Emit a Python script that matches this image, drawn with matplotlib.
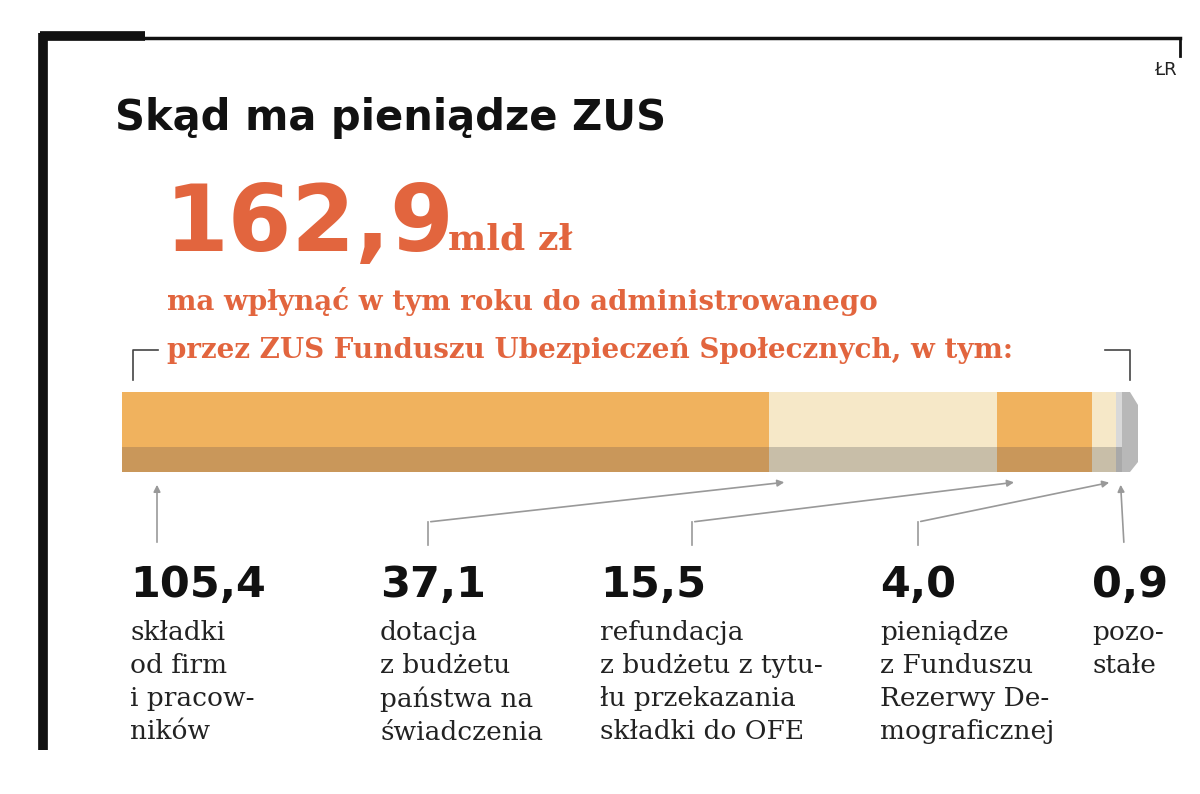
import matplotlib
matplotlib.use("Agg")
import matplotlib.pyplot as plt

values = [105.4, 37.1, 15.5, 4.0, 0.9]
value_labels = ["105,4", "37,1", "15,5", "4,0", "0,9"]
descriptions = ["składki\nod firm\ni pracow-\nników",
                "dotacja\nz budżetu\npaństwa na\nświadczenia",
                "refundacja\nz budżetu z tytu-\nłu przekazania\nskładki do OFE",
                "pieniądze\nz Funduszu\nRezerwy De-\nmograficznej",
                "pozo-\nstałe"]
total = 162.9

top_cols = ["#F0B25E", "#F6E8C8", "#F0B25E", "#F6E8C8", "#D9D9D9"]
bot_cols = ["#C9975A", "#C8BEA8", "#C9975A", "#C8BEA8", "#A9A9A9"]
ORANGE = "#E2653E"

fig = plt.figure(figsize=(12, 7.94), dpi=100)
W, H = 1200, 794
ov = fig.add_axes([0, 0, 1, 1])
ov.set_xlim(0, W); ov.set_ylim(H, 0); ov.axis("off")

# frame
ov.plot([40, 145], [36, 36], color="#111", lw=7, solid_capstyle="butt")
ov.plot([145, 1180], [38, 38], color="#111", lw=2.5)
ov.plot([43, 43], [33, 750], color="#111", lw=7, solid_capstyle="butt")
ov.plot([1180, 1180], [38, 56], color="#111", lw=2)
ov.text(1165, 70, "ŁR", fontsize=13, ha="center", va="center", color="#222")

ov.text(115, 118, "Skąd ma pieniądze ZUS", fontsize=30, fontweight="bold",
        va="center", color="#111", family="DejaVu Sans Condensed")
ov.text(165, 225, "162,9", fontsize=66, fontweight="bold", va="center", color=ORANGE)
ov.text(448, 240, "mld zł", fontsize=26, fontweight="bold", va="center",
        color=ORANGE, family="DejaVu Serif")
ov.text(167, 302, "ma wpłynąć w tym roku do administrowanego", fontsize=20,
        fontweight="bold", va="center", color=ORANGE, family="DejaVu Serif")
ov.text(167, 350, "przez ZUS Funduszu Ubezpieczeń Społecznych, w tym:", fontsize=20,
        fontweight="bold", va="center", color=ORANGE, family="DejaVu Serif")
ov.plot([133, 133, 158], [380, 350, 350], color="#444", lw=1.2)
ov.plot([1105, 1130, 1130], [350, 350, 380], color="#444", lw=1.2)

# bar
x0, x1 = 122, 1122
bx = fig.add_axes([x0 / W, 1 - 472 / H, (x1 - x0) / W, 80 / H])
bx.set_xlim(0, total); bx.set_ylim(0, 80); bx.axis("off")
left = 0
for v, ct, cb in zip(values, top_cols, bot_cols):
    bx.barh(52.5, v, left=left, height=55, color=ct, align="center", lw=0)
    bx.barh(12.5, v, left=left, height=25, color=cb, align="center", lw=0)
    left += v
scale = (x1 - x0) / total
# end cap
ov.fill([x1, 1130, 1138, 1138, 1130, x1], [392, 392, 405, 462, 472, 472], color="#B8B8B8", lw=0)

# leaders
starts = [0] + [sum(values[:i]) for i in range(1, 5)]
arrow_x = [x0 + 35, x0 + starts[1] * scale + 18, x0 + starts[2] * scale + 20,
           x0 + starts[3] * scale + 20, x0 + starts[4] * scale + 4]
label_x = [130, 380, 600, 880, 1092]
lead_x = [157, 428, 692, 918, 1124]
for ax_, lx in zip(arrow_x, lead_x):
    if abs(ax_ - lx) < 5:
        ov.annotate("", xy=(ax_, 482), xytext=(lx, 545),
                    arrowprops=dict(arrowstyle="-|>", color="#999", lw=1.2, mutation_scale=10))
    else:
        ov.plot([lx, lx], [545, 522], color="#999", lw=1.2)
        ov.annotate("", xy=(ax_, 482), xytext=(lx, 522),
                    arrowprops=dict(arrowstyle="-|>", color="#999", lw=1.2, mutation_scale=10))

for lx, vl, d in zip(label_x, value_labels, descriptions):
    ov.text(lx, 585, vl, fontsize=31, fontweight="bold", va="center", color="#111",
            family="DejaVu Sans Condensed")
    ov.text(lx, 620, d, fontsize=19, va="top", color="#222", family="DejaVu Serif",
            linespacing=1.4)

fig.savefig("out.png", dpi=100, facecolor="white")
